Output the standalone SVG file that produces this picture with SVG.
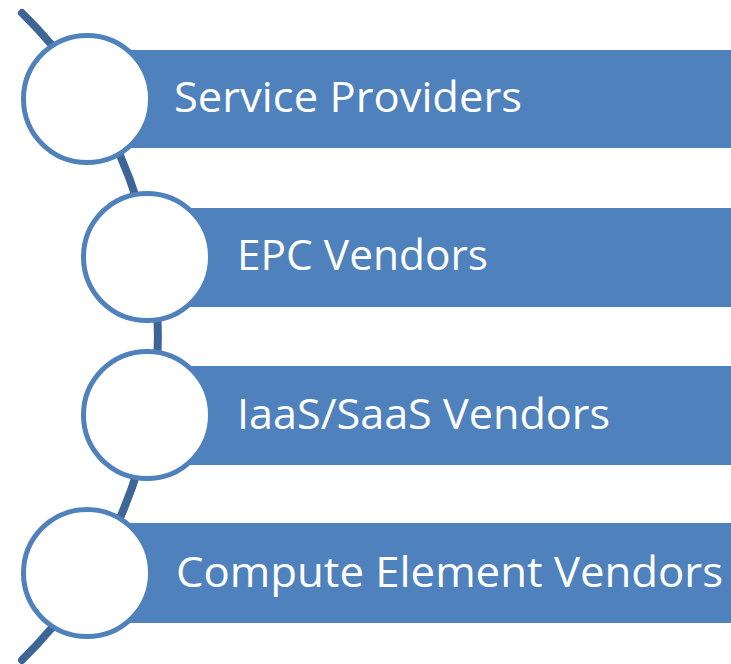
<svg xmlns="http://www.w3.org/2000/svg" width="731" height="664" viewBox="0 0 731 664">
  <defs>
    <style>
      .bar { fill: #4F81BD; }
      .ring { fill: #FFFFFF; stroke: #4F81BD; stroke-width: 5; }
      .arc { fill: none; stroke: #3D6697; stroke-width: 8; stroke-linecap: round; }
      .label { fill: #FFFFFF; font-family: "Open Sans", "Noto Sans", "Liberation Sans", sans-serif; font-size: 42px; }
    </style>
  </defs>
  <rect width="731" height="664" fill="#FFFFFF"/>
  <g id="connectors">
    <path class="arc" d="M 22 13 A 453 453 0 0 1 22 660"/>
  </g>
  <g id="node-service-providers">
    <rect class="bar" x="87" y="50" width="644" height="98"/>
    <circle class="ring" cx="87" cy="99" r="63.5"/>
    <text class="label" x="174" y="112" textLength="348" lengthAdjust="spacingAndGlyphs">Service Providers</text>
  </g>
  <g id="node-epc-vendors">
    <rect class="bar" x="147" y="208" width="584" height="99"/>
    <circle class="ring" cx="147" cy="257" r="63.5"/>
    <text class="label" x="237" y="270" textLength="251" lengthAdjust="spacingAndGlyphs">EPC Vendors</text>
  </g>
  <g id="node-iaas-saas-vendors">
    <rect class="bar" x="147" y="366" width="584" height="99"/>
    <circle class="ring" cx="147" cy="415" r="63.5"/>
    <text class="label" x="237" y="429" textLength="373" lengthAdjust="spacingAndGlyphs">IaaS/SaaS Vendors</text>
  </g>
  <g id="node-compute-element-vendors">
    <rect class="bar" x="87" y="523" width="644" height="100"/>
    <circle class="ring" cx="87" cy="573" r="63.5"/>
    <text class="label" x="176" y="587" textLength="547" lengthAdjust="spacingAndGlyphs">Compute Element Vendors</text>
  </g>
</svg>
